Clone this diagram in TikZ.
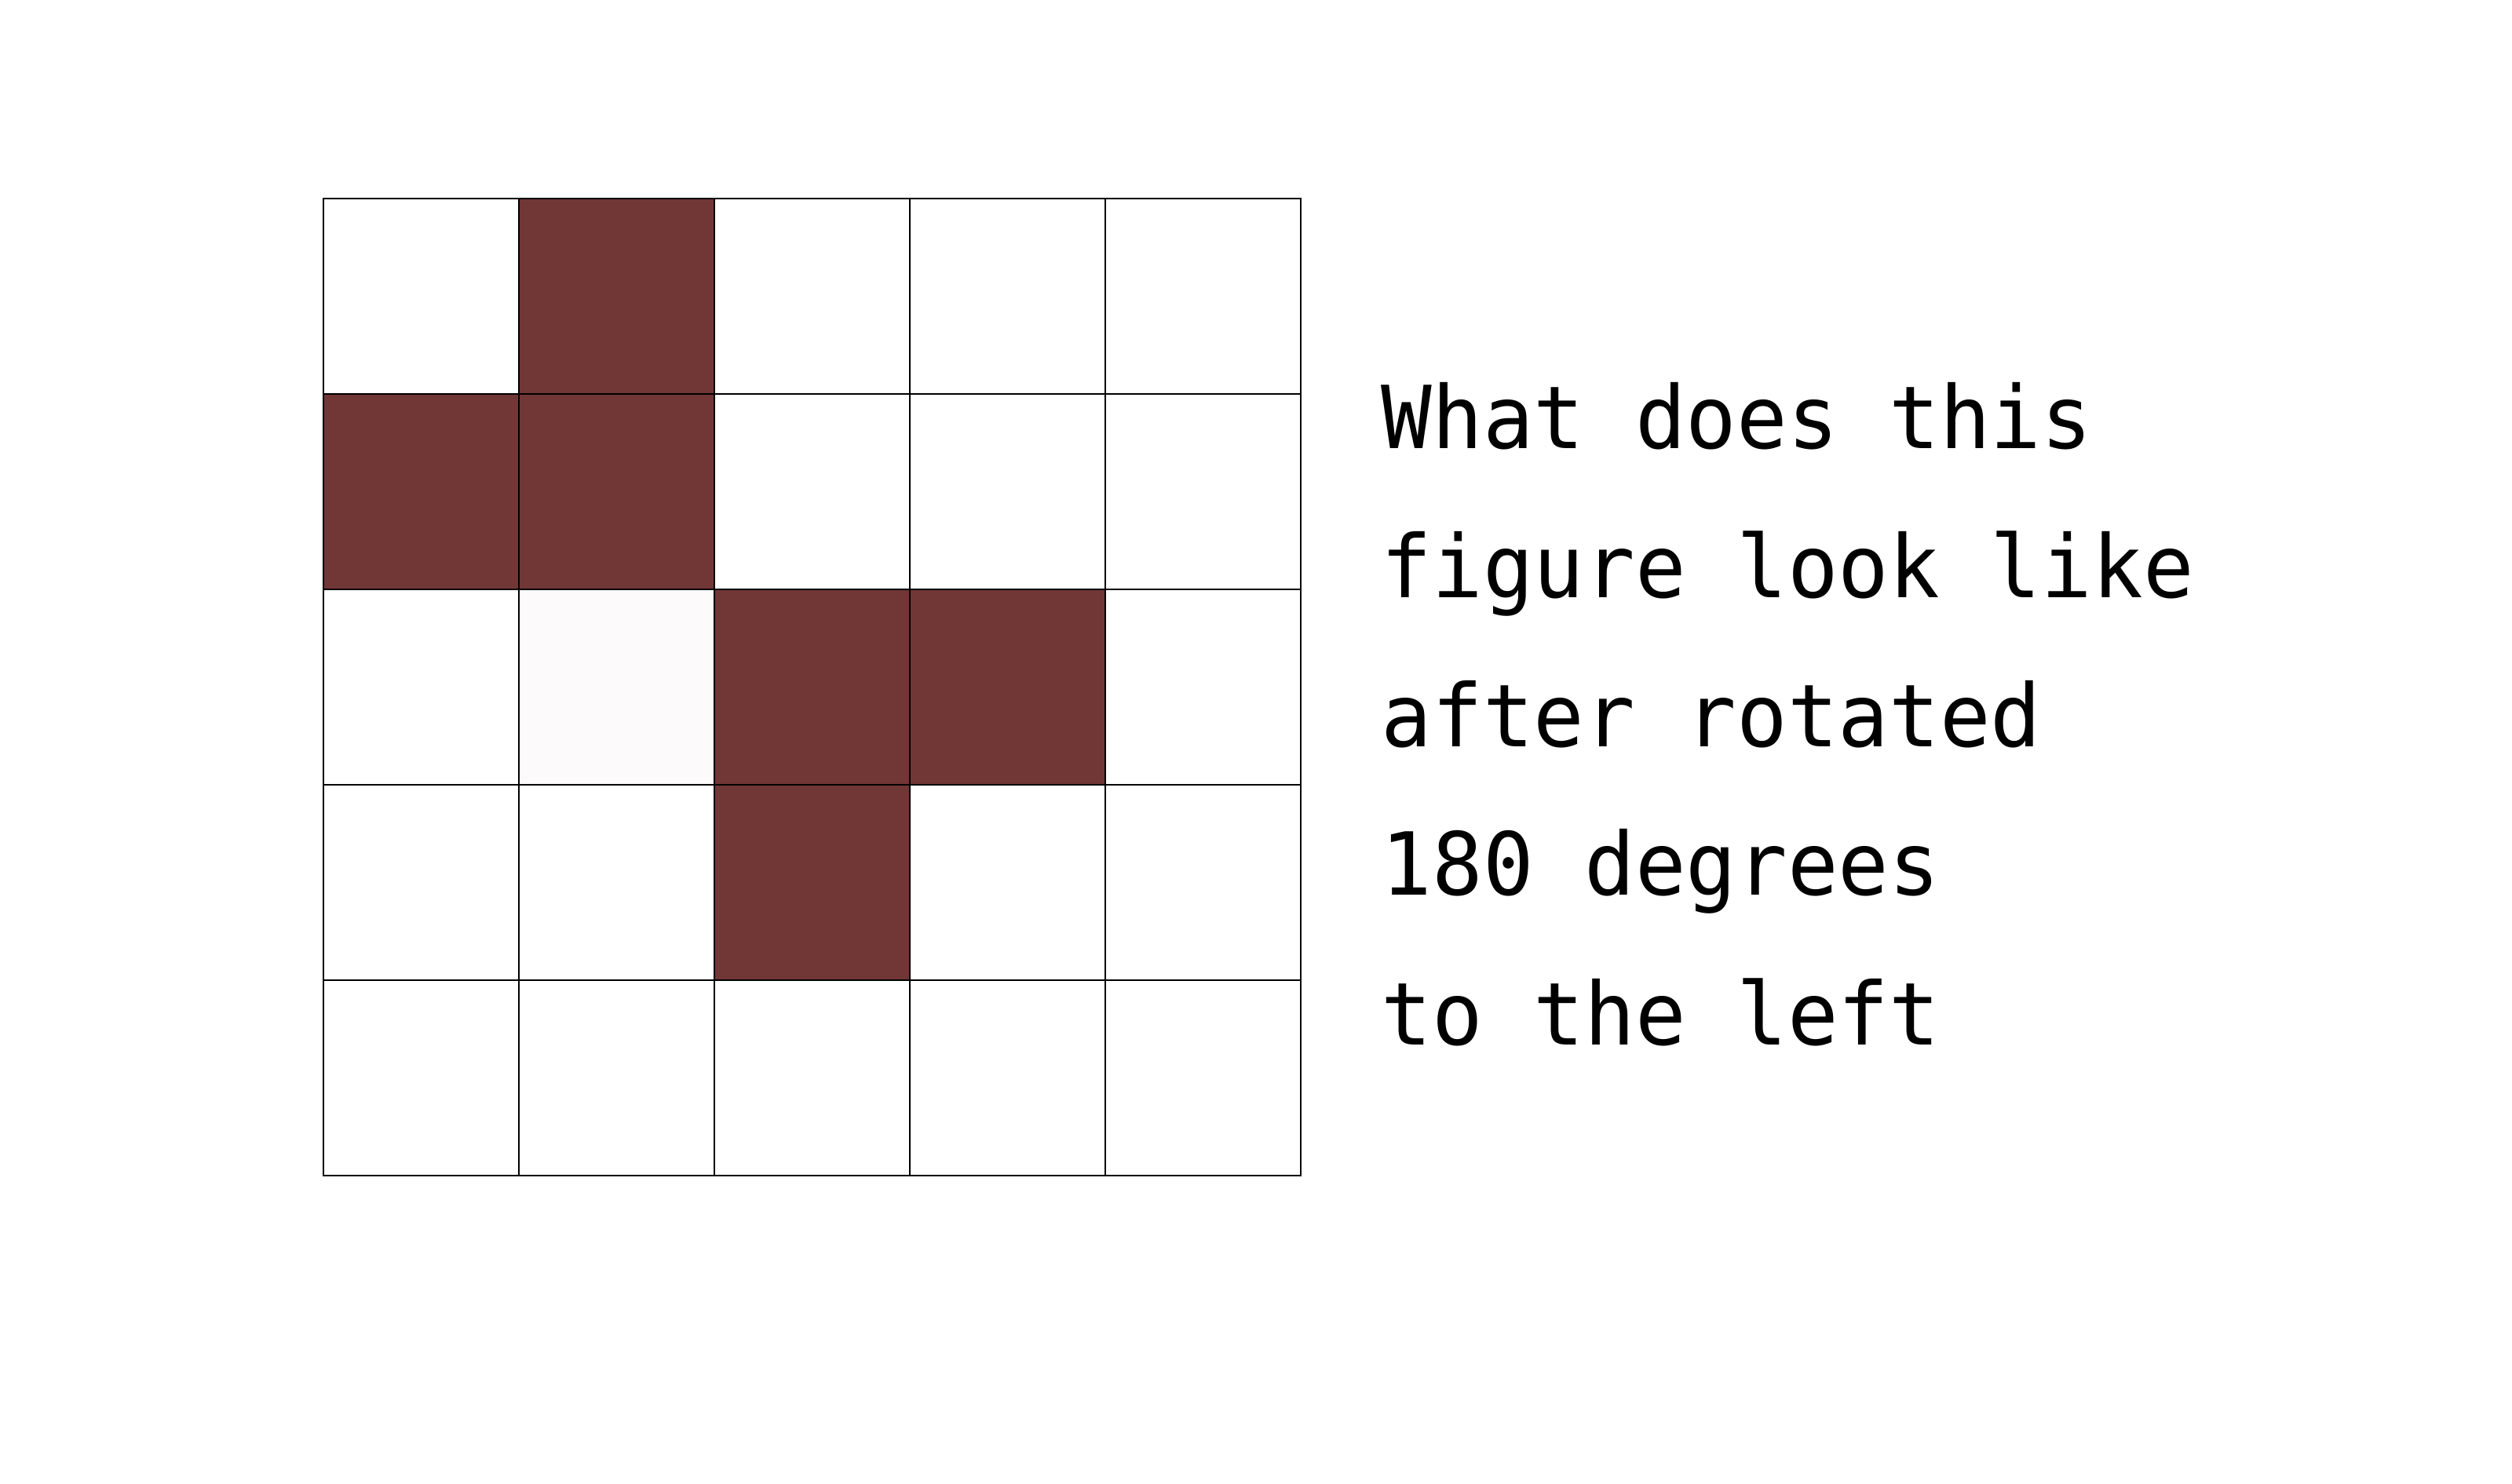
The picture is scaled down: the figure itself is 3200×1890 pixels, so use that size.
\documentclass[tikz,border=0pt]{standalone}
\usepackage{fontspec}
\usepackage{xcolor}
\usepackage{tikz}
\newfontfamily\questfont[FakeStretch=0.97]{DejaVu Sans Mono}
\definecolor{cellred}{RGB}{113,54,54}
\definecolor{cellfaint}{RGB}{252,250,251}

\begin{document}
\begin{tikzpicture}[
  x=0.01cm,
  y=-0.01cm,
  cell/.style={draw=black, line width=0.6pt, fill=white},
  darkcell/.style={cell, fill=cellred},
  paleCell/.style={cell, fill=cellfaint},
  question/.style={font=\questfont\fontsize{31.5}{38}\selectfont, anchor=base west, inner sep=0pt}
]
\useasboundingbox (0,0) rectangle (3200,1890);

% 5x5 grid
\foreach \r in {0,...,4} {
  \foreach \c in {0,...,4} {
    \draw[cell] (412+249*\c,253+249*\r) rectangle ++(249,249);
  }
}
\foreach \c/\r in {1/0,0/1,1/1,2/2,3/2,2/3} {
  \draw[darkcell] (412+249*\c,253+249*\r) rectangle ++(249,249);
}
\draw[paleCell] (661,751) rectangle ++(249,249);

% question text
\node[question] (line1) at (1759,571) {What does this};
\node[question] (line2) at (1759,761) {figure look like};
\node[question] (line3) at (1759,951) {after rotated};
\node[question] (line4) at (1759,1140) {180 degrees};
\node[question] (line5) at (1759,1331) {to the left};
\end{tikzpicture}
\end{document}
